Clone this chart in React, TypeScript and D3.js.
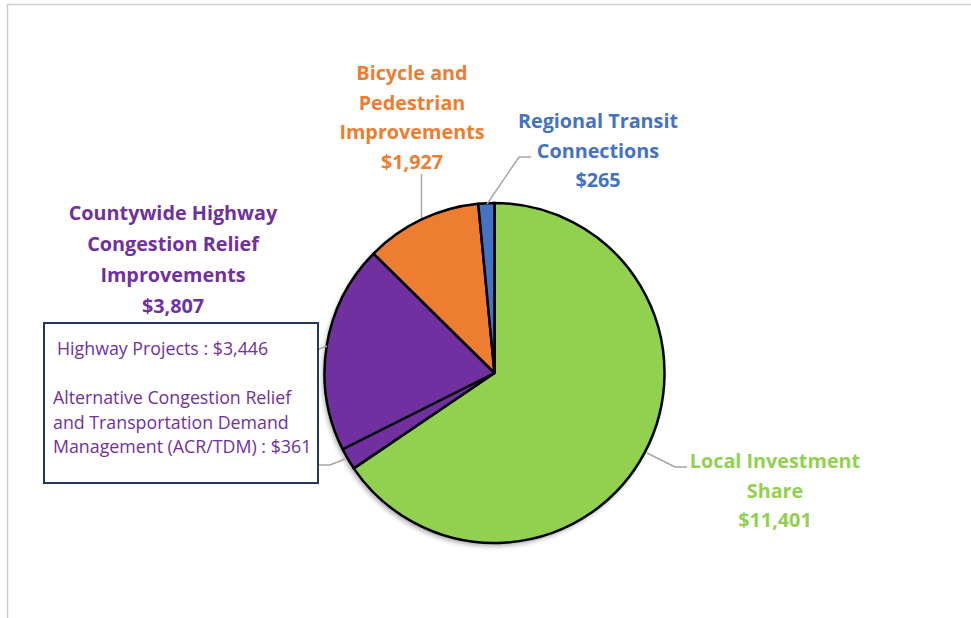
import React from "react";
import * as d3 from "d3";

const categories = [
  "Local Investment Share",
  "ACR/TDM",
  "Highway Projects",
  "Bicycle and Pedestrian Improvements",
  "Regional Transit Connections",
];
const values = [11401, 361, 3446, 1927, 265];
const colors = ["#92D050", "#7030A0", "#7030A0", "#ED7D31", "#4472C4"];

const W = 971;
const H = 618;
const cx = 494.5;
const cy = 373;
const R = 170;
const FONT = "'Open Sans', Lato, sans-serif";

const fmt = (v: number) => "$" + d3.format(",")(v);

export default function App() {
  const pie = d3.pie<number>().sort(null).value((d) => d)(values);
  const arc = d3.arc<d3.PieArcDatum<number>>().innerRadius(0).outerRadius(R);
  const countywide = values[1] + values[2];

  const bold = (lines: string[], x: number, y0: number, color: string, lh = 29.5) => (
    <text x={x} y={y0} fill={color} fontFamily={FONT} fontWeight={700} fontSize={19.8} textAnchor="middle">
      {lines.map((l, i) => (
        <tspan key={i} x={x} dy={i === 0 ? 0 : lh}>
          {l}
        </tspan>
      ))}
    </text>
  );

  return (
    <svg width={W} height={H} style={{ position: "absolute", left: 0, top: 0 }}>
      <defs>
        <filter id="sh" x="-20%" y="-20%" width="140%" height="140%">
          <feDropShadow dx="-2" dy="3" stdDeviation="2.5" floodColor="#000" floodOpacity="0.35" />
        </filter>
      </defs>
      <rect x={0} y={0} width={W} height={H} fill="#fff" />
      <line x1={7.5} y1={4} x2={7.5} y2={H} stroke="#D0D0D0" strokeWidth={1.5} />
      <line x1={7} y1={4.5} x2={W} y2={4.5} stroke="#D0D0D0" strokeWidth={1.5} />

      <g transform={`translate(${cx},${cy})`}>
        <circle r={R} fill="#fff" filter="url(#sh)" />
        {pie.map((p, i) => (
          <path key={categories[i]} d={arc(p) || ""} fill={colors[i]} stroke="#000" strokeWidth={2.5} strokeLinejoin="round" />
        ))}
      </g>

      {/* leader lines */}
      <g stroke="#A6A6A6" strokeWidth={1.5} fill="none">
        <polyline points="421.5,174 421.5,218" />
        <polyline points="487,204 519,157 531,157" />
        <polyline points="271,363 283,363 327,346" />
        <polyline points="318,465 330,465 345,459" />
        <polyline points="647,453 675,467 687,467" />
      </g>

      {bold(["Bicycle and", "Pedestrian", "Improvements", fmt(values[3])], 412, 80, colors[3])}
      {bold(["Regional Transit", "Connections", fmt(values[4])], 598, 128, colors[4])}
      {bold(["Countywide Highway", "Congestion Relief", "Improvements", fmt(countywide)], 173, 220, colors[1], 31)}
      {bold(["Local Investment", "Share", fmt(values[0])], 775, 468, colors[0])}

      <rect x={44} y={323} width={274} height={160} fill="#fff" stroke="#1F3864" strokeWidth={2} />
      <text fontFamily={FONT} fontSize={17.8} fill={colors[1]}>
        <tspan x={57} y={355}>{`Highway Projects : ${fmt(values[2])}`}</tspan>
        <tspan x={53} y={404}>Alternative Congestion Relief</tspan>
        <tspan x={53} y={428.5}>and Transportation Demand</tspan>
        <tspan x={53} y={453}>{`Management (ACR/TDM) : ${fmt(values[1])}`}</tspan>
      </text>
    </svg>
  );
}
